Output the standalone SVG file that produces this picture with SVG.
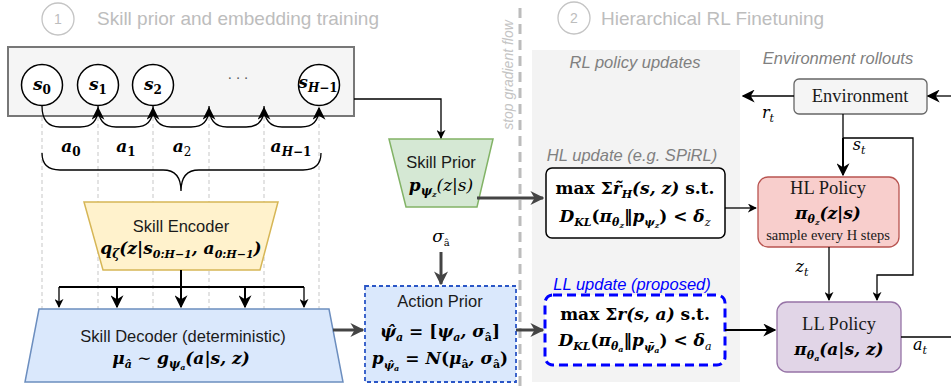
<svg xmlns="http://www.w3.org/2000/svg" width="951" height="387" viewBox="0 0 951 387">
<defs>
<style>
.sans{font-family:"Liberation Sans",Arial,sans-serif}
.serif{font-family:"Liberation Serif","Times New Roman",serif}
.m{font-family:"DejaVu Serif","Liberation Serif",serif;font-style:italic;font-weight:bold;fill:#000}
.mi{font-family:"DejaVu Serif","Liberation Serif",serif;font-style:italic;fill:#000}
.up{font-style:normal}
.nb{font-weight:normal}
.lbl{font-size:16.5px;fill:#1a1a1a}
.ttl{font-size:19px;fill:#bdbdbd}
.cap{font-size:16.5px;fill:#808080;font-style:italic}
.ln{fill:none;stroke:#000;stroke-width:1.3}
.ln2{fill:none;stroke:#000;stroke-width:2}
.thick{fill:none;stroke:#444;stroke-width:3}
.guide{fill:none;stroke:#d4d4d4;stroke-width:1.3;stroke-dasharray:4 3}
</style>
<marker id="ah" viewBox="0 0 10 10" refX="9" refY="5" markerWidth="9" markerHeight="9" markerUnits="userSpaceOnUse" orient="auto"><path d="M0,0L10,5L0,10L3,5z" fill="#000"/></marker>
<marker id="ahb" viewBox="0 0 10 10" refX="9" refY="5" markerWidth="13" markerHeight="13" markerUnits="userSpaceOnUse" orient="auto"><path d="M0,0L10,5L0,10L3,5z" fill="#000"/></marker>
<marker id="ahg" viewBox="0 0 10 10" refX="9" refY="5" markerWidth="14" markerHeight="14" markerUnits="userSpaceOnUse" orient="auto"><path d="M0,0L10,5L0,10L3,5z" fill="#444"/></marker>
</defs>

<rect x="0" y="0" width="951" height="387" fill="#fff"/>

<!-- RL update panel -->
<rect x="532" y="50" width="208" height="332" fill="#f3f3f3"/>

<!-- section titles -->
<g id="title-1">
<circle cx="58" cy="19" r="16" fill="none" stroke="#c4c4c4" stroke-width="1.3"/>
<text class="sans" x="58" y="24" font-size="14" fill="#bdbdbd" text-anchor="middle">1</text>
<text class="sans ttl" x="97" y="25">Skill prior and embedding training</text>
</g>
<g id="title-2">
<circle cx="574" cy="18" r="16" fill="none" stroke="#c4c4c4" stroke-width="1.3"/>
<text class="sans" x="574" y="23" font-size="14" fill="#bdbdbd" text-anchor="middle">2</text>
<text class="sans ttl" x="601" y="25">Hierarchical RL Finetuning</text>
</g>
<text class="sans cap" x="635" y="68" text-anchor="middle">RL policy updates</text>
<text class="sans cap" x="838" y="64" text-anchor="middle">Environment rollouts</text>
<text class="sans cap" x="632" y="161" text-anchor="middle">HL update (e.g. SPiRL)</text>
<text class="sans" x="632" y="290" font-size="16.5" font-style="italic" fill="#0000ff" text-anchor="middle">LL update (proposed)</text>

<!-- stop gradient divider -->
<g id="stop-gradient">
<line x1="520" y1="8" x2="520" y2="387" stroke="#bcbcbc" stroke-width="3" stroke-dasharray="10 6"/>
<text class="sans" transform="translate(513,75) rotate(-90)" font-size="14" font-style="italic" fill="#c4c4c4" text-anchor="middle">stop gradient flow</text>
</g>

<!-- time-step guides -->
<g id="guides">
<line class="guide" x1="42" y1="117" x2="42" y2="309"/>
<line class="guide" x1="98" y1="117" x2="98" y2="309"/>
<line class="guide" x1="153" y1="117" x2="153" y2="309"/>
<line class="guide" x1="209" y1="117" x2="209" y2="309"/>
<line class="guide" x1="264" y1="117" x2="264" y2="309"/>
<line class="guide" x1="319" y1="117" x2="319" y2="309"/>
</g>

<!-- trajectory -->
<g id="trajectory">
<rect x="8" y="47" width="346" height="69" fill="#f5f5f5" stroke="#777" stroke-width="2"/>
<g id="s0"><circle cx="42" cy="85" r="20.5" fill="#fff" stroke="#000" stroke-width="1.5"/>
<text class="m" x="42" y="90" font-size="17" text-anchor="middle">s<tspan class="up" font-size="12" dy="4">0</tspan></text></g>
<g id="s1"><circle cx="98" cy="85" r="20.5" fill="#fff" stroke="#000" stroke-width="1.5"/>
<text class="m" x="98" y="90" font-size="17" text-anchor="middle">s<tspan class="up" font-size="12" dy="4">1</tspan></text></g>
<g id="s2"><circle cx="153" cy="85" r="20.5" fill="#fff" stroke="#000" stroke-width="1.5"/>
<text class="m" x="153" y="90" font-size="17" text-anchor="middle">s<tspan class="up" font-size="12" dy="4">2</tspan></text></g>
<text class="serif" x="238" y="83" font-size="14" fill="#555" text-anchor="middle">· · ·</text>
<g id="sH"><circle cx="319" cy="85" r="20.5" fill="#fff" stroke="#000" stroke-width="1.5"/>
<text class="m" x="318" y="88" font-size="17" text-anchor="middle">s<tspan font-size="12" dy="4">H−</tspan><tspan class="up" font-size="12">1</tspan></text></g>
</g>

<!-- action labels and brace -->
<g id="actions">
<text class="m" x="71" y="152" font-size="17" text-anchor="middle">a<tspan class="up" font-size="12" dy="4">0</tspan></text>
<text class="m" x="126" y="152" font-size="17" text-anchor="middle">a<tspan class="up" font-size="12" dy="4">1</tspan></text>
<text class="m" x="182" y="152" font-size="17" text-anchor="middle">a<tspan class="up nb" font-size="12" dy="4">2</tspan></text>
<text class="m" x="291" y="152" font-size="17" text-anchor="middle">a<tspan font-size="12" dy="4">H−</tspan><tspan class="up" font-size="12">1</tspan></text>
<path class="ln" d="M42,153 Q42,170 60,170 L163,170 Q181,170 181,191 Q181,170 199,170 L303,170 Q321,170 321,153"/>
</g>

<!-- skill prior -->
<g id="skill-prior">
<polygon points="389,139 493,139 477,207 406,207" fill="#d5e8d4" stroke="#82b366" stroke-width="1.5"/>
<text class="sans lbl" x="441" y="168" text-anchor="middle">Skill Prior</text>
<text class="m" x="441" y="191" font-size="17" text-anchor="middle">p<tspan font-size="12" dy="4">ψ</tspan><tspan font-size="8" dy="2">z</tspan><tspan class="nb" dy="-6">(z|s)</tspan></text>
</g>

<!-- skill encoder -->
<g id="skill-encoder">
<polygon points="84,202 278,202 260,270 103,270" fill="#fff2cc" stroke="#d6b656" stroke-width="1.5"/>
<text class="sans lbl" x="181" y="232" text-anchor="middle">Skill Encoder</text>
<text class="m" x="181" y="254" font-size="17" text-anchor="middle">q<tspan font-size="12" dy="4">ζ</tspan><tspan dy="-4">(z|s</tspan><tspan font-size="11" dy="4">0:H−1</tspan><tspan dy="-4">, a</tspan><tspan font-size="11" dy="4">0:H−1</tspan><tspan dy="-4">)</tspan></text>
</g>

<!-- skill decoder -->
<g id="skill-decoder">
<polygon points="39,309 329,309 343,382 25,382" fill="#dae8fc" stroke="#6c8ebf" stroke-width="1.5"/>
<text class="sans lbl" x="183" y="342" text-anchor="middle">Skill Decoder (deterministic)</text>
<text class="m" x="181" y="364" font-size="17" text-anchor="middle">μ<tspan font-size="11" dy="4">â</tspan><tspan class="up nb" dy="-4"> ∼ </tspan>g<tspan font-size="12" dy="4">ψ</tspan><tspan font-size="8" dy="2">a</tspan><tspan dy="-6">(a|s, z)</tspan></text>
</g>

<!-- action prior -->
<g id="action-prior">
<rect x="365" y="286" width="151" height="96" fill="#dae8fc" stroke="#2a56c6" stroke-width="1.8" stroke-dasharray="4 3"/>
<text class="sans lbl" x="440" y="307" text-anchor="middle">Action Prior</text>
<text class="m" x="440" y="337" font-size="17" text-anchor="middle">ψ̂<tspan font-size="11" dy="4">a</tspan><tspan class="up" dy="-4"> = [</tspan>ψ<tspan font-size="11" dy="4">a</tspan><tspan dy="-4">, σ</tspan><tspan class="up" font-size="11" dy="4">â</tspan><tspan class="up" dy="-4">]</tspan></text>
<text class="m" x="440" y="364" font-size="17" text-anchor="middle">p<tspan font-size="11" dy="5">ψ̂</tspan><tspan font-size="8" dy="2">a</tspan><tspan class="up" dy="-7"> = </tspan>N<tspan class="up">(</tspan>μ<tspan class="up" font-size="11" dy="4">â</tspan><tspan dy="-4">, σ</tspan><tspan class="up" font-size="11" dy="4">â</tspan><tspan class="up" dy="-4">)</tspan></text>
</g>
<text class="mi" x="441" y="242" font-size="17" text-anchor="middle">σ<tspan class="up" font-size="10" dy="4">â</tspan></text>

<!-- HL update -->
<g id="hl-update">
<rect x="546" y="168" width="179" height="70" rx="6" fill="#fff" stroke="#000" stroke-width="1.5"/>
<text class="m" x="635" y="194" font-size="17" text-anchor="middle"><tspan class="up">max Σ</tspan>r̃<tspan font-size="11" dy="4">H</tspan><tspan dy="-4">(s, z) </tspan><tspan class="up">s.t.</tspan></text>
<text class="m" x="635" y="222" font-size="17" text-anchor="middle">D<tspan font-size="11" dy="4">KL</tspan><tspan class="up" dy="-4">(</tspan>π<tspan font-size="11" dy="4">θ</tspan><tspan font-size="8" dy="2">z</tspan><tspan class="up" dy="-6">‖</tspan>p<tspan font-size="11" dy="4">ψ</tspan><tspan font-size="8" dy="2">z</tspan><tspan class="up" dy="-6">) &lt; </tspan>δ<tspan class="nb" font-size="11" dy="4">z</tspan></text>
</g>

<!-- LL update -->
<g id="ll-update">
<rect x="545" y="295" width="180" height="70" rx="8" fill="#fff" stroke="#0000ff" stroke-width="3" stroke-dasharray="9 5"/>
<text class="m" x="635" y="320" font-size="17" text-anchor="middle"><tspan class="up">max Σ</tspan>r(s, a) <tspan class="up">s.t.</tspan></text>
<text class="m" x="635" y="346" font-size="17" text-anchor="middle">D<tspan font-size="11" dy="4">KL</tspan><tspan class="up" dy="-4">(</tspan>π<tspan font-size="11" dy="4">θ</tspan><tspan font-size="8" dy="2">a</tspan><tspan class="up" dy="-6">‖</tspan>p<tspan font-size="11" dy="5">ψ̄</tspan><tspan font-size="8" dy="2">a</tspan><tspan class="up" dy="-7">) &lt; </tspan>δ<tspan class="nb" font-size="11" dy="4">a</tspan></text>
</g>

<!-- environment -->
<g id="environment">
<rect x="794" y="79" width="133" height="35" rx="5" fill="#f5f5f5" stroke="#666" stroke-width="1.3"/>
<text class="serif" x="860" y="102" font-size="18.5" text-anchor="middle" fill="#1a1a1a">Environment</text>
</g>

<!-- HL policy -->
<g id="hl-policy">
<rect x="758" y="177" width="141" height="70" rx="10" fill="#f8cecc" stroke="#b85450" stroke-width="1.3"/>
<text class="serif" x="828" y="194" font-size="18.5" text-anchor="middle" fill="#1a1a1a">HL Policy</text>
<text class="m" x="828" y="219" font-size="17" text-anchor="middle">π<tspan font-size="11" dy="4">θ</tspan><tspan font-size="8" dy="2">z</tspan><tspan dy="-6">(z|s)</tspan></text>
<text class="serif" x="828" y="240" font-size="14.5" text-anchor="middle" fill="#1a1a1a">sample every H steps</text>
</g>

<!-- LL policy -->
<g id="ll-policy">
<rect x="777" y="302" width="124" height="70" rx="10" fill="#e1d5e7" stroke="#9673a6" stroke-width="1.3"/>
<text class="serif" x="839" y="330" font-size="18.5" text-anchor="middle" fill="#1a1a1a">LL Policy</text>
<text class="m" x="839" y="355" font-size="17" text-anchor="middle">π<tspan font-size="11" dy="4">θ</tspan><tspan font-size="8" dy="2">a</tspan><tspan dy="-6">(a|s, z)</tspan></text>
</g>

<!-- connectors -->
<g id="connectors">
<!-- transitions between states -->
<path class="ln" d="M42,106 Q42,127 60,127 L80,127 Q98,127 98,108" marker-end="url(#ahb)"/>
<path class="ln" d="M98,106 Q98,127 116,127 L135,127 Q153,127 153,108" marker-end="url(#ahb)"/>
<path class="ln" d="M153,106 Q153,127 171,127 L191,127 Q209,127 209,108" marker-end="url(#ahb)"/>
<path class="ln" d="M209,106 Q209,127 227,127 L246,127 Q264,127 264,108" marker-end="url(#ahb)"/>
<path class="ln" d="M264,106 Q264,127 282,127 L301,127 Q319,127 319,108" marker-end="url(#ahb)"/>
<!-- trajectory to skill prior -->
<path class="ln" d="M354,99 L441,99 L441,138" marker-end="url(#ah)"/>
<!-- encoder to decoder -->
<path class="ln2" d="M181,270 L181,307" marker-end="url(#ahb)"/>
<path class="ln2" d="M59,287 L304,287"/>
<path class="ln" d="M59,287 L59,307" marker-end="url(#ah)"/>
<path class="ln2" d="M117,287 L117,307" marker-end="url(#ahb)"/>
<path class="ln2" d="M245,287 L245,307" marker-end="url(#ahb)"/>
<path class="ln" d="M304,287 L304,307" marker-end="url(#ah)"/>
<!-- prior outputs -->
<path class="thick" d="M477,198 L543,198" marker-end="url(#ahg)"/>
<path class="thick" d="M333,330 L363,330" marker-end="url(#ahg)"/>
<path class="thick" d="M441,252 L441,284" marker-end="url(#ahg)"/>
<path class="thick" d="M516,330 L543,330" marker-end="url(#ahg)"/>
<!-- update to policy -->
<path class="ln" d="M725,208 L756,208" marker-end="url(#ah)"/>
<path class="ln2" d="M725,330 L775,330" marker-end="url(#ahb)"/>
<!-- environment loop -->
<path class="ln" d="M794,96 L743,96" marker-end="url(#ahb)"/>
<path class="ln" d="M951,96 L928,96" marker-end="url(#ahb)"/>
<path class="ln" d="M843,114 L843,138"/>
<path class="ln2" d="M843,138 L843,175" marker-end="url(#ahb)"/>
<path class="ln" d="M843,138 L913,138 L913,275 L877,275 L877,300" marker-end="url(#ah)"/>
<path class="ln" d="M829,247 L829,300" marker-end="url(#ah)"/>
<path class="ln" d="M901,337 L951,337"/>
</g>

<!-- signal labels -->
<text class="mi" x="768" y="118" font-size="16" text-anchor="middle">r<tspan font-size="11" dy="4">t</tspan></text>
<text class="mi" x="859" y="150" font-size="16" text-anchor="middle">s<tspan font-size="11" dy="4">t</tspan></text>
<text class="mi" x="802" y="272" font-size="16" text-anchor="middle">z<tspan font-size="11" dy="4">t</tspan></text>
<text class="mi" x="920" y="350" font-size="16" text-anchor="middle">a<tspan font-size="11" dy="4">t</tspan></text>
</svg>
